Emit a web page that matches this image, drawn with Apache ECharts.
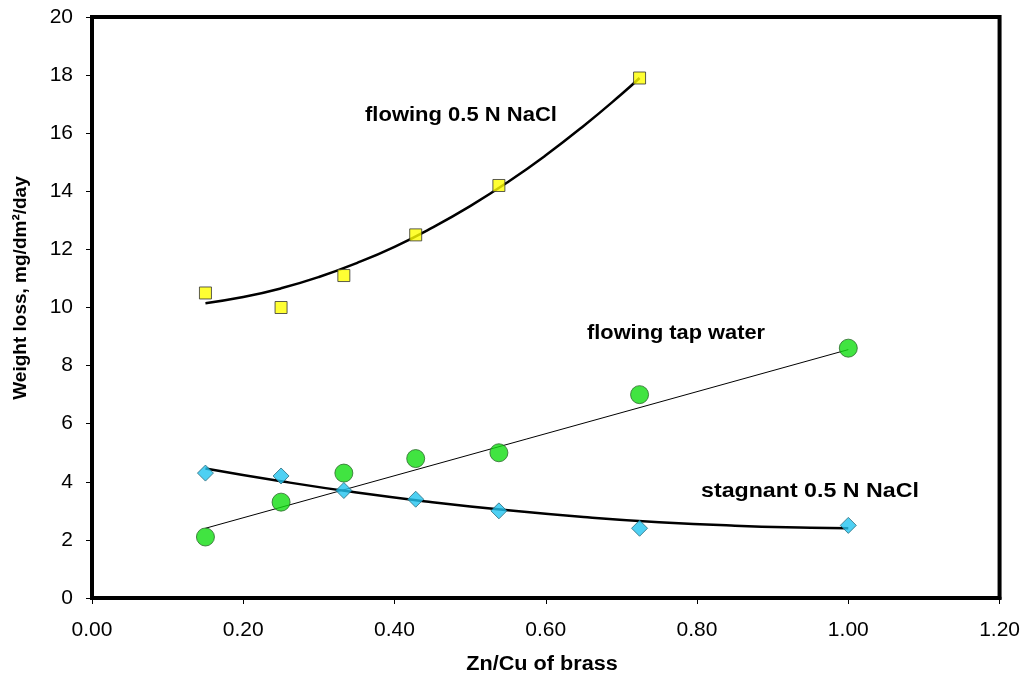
<!DOCTYPE html>
<html><head><meta charset="utf-8">
<script src="https://cdn.jsdelivr.net/npm/echarts@6/dist/echarts.min.js"></script>
<style>html,body{margin:0;padding:0;background:#fff}#c{width:1023px;height:679px}</style>
</head><body><div id="c"></div>
<script>
// Zn/Cu ratio of brass
const xVals = [0.15, 0.25, 0.333, 0.428, 0.538, 0.724, 1.0];
// measured weight loss
const flowingNaCl = [10.5, 10.0, 11.1, 12.5, 14.2, 17.9];
const flowingTap  = [2.1, 3.3, 4.3, 4.8, 5.0, 7.0, 8.6];
const stagnantNaCl = [4.3, 4.2, 3.7, 3.4, 3.0, 2.4, 2.5];
// trend lines
const trendNaClX = [0.15, 0.2, 0.25, 0.3, 0.35, 0.4, 0.45, 0.5, 0.55, 0.6, 0.65, 0.7, 0.724];
const trendNaClY = [10.15, 10.36, 10.66, 11.05, 11.53, 12.09, 12.75, 13.49, 14.32, 15.24, 16.25, 17.34, 17.9];
const trendTapX = [0.15, 1.0];
const trendTapY = [2.4, 8.55];
const trendStagX = [0.15, 0.25, 0.35, 0.45, 0.55, 0.65, 0.75, 0.85, 0.95, 1.0];
const trendStagY = [4.46, 4.02, 3.63, 3.30, 3.02, 2.79, 2.61, 2.49, 2.42, 2.40];
const yTicks = [0, 2, 4, 6, 8, 10, 12, 14, 16, 18, 20];
const xTicks = [0, 0.2, 0.4, 0.6, 0.8, 1.0, 1.2];
const labels = ['flowing 0.5 N NaCl', 'flowing tap water', 'stagnant 0.5 N NaCl'];
const xTitle = 'Zn/Cu of brass';
const yTitle = 'Weight loss, mg/dm\u00b2/day';

const zip = (xs, ys) => ys.map((y, i) => [xs[i], y]);
const font = '"Liberation Sans", Arial, sans-serif';
const boldFont = 'bold 20px "Liberation Sans", Arial, sans-serif';
const chart = echarts.init(document.getElementById('c'));
chart.setOption({
  animation: false,
  backgroundColor: '#fff',
  grid: { left: 92, right: 23, top: 17, bottom: 81, show: true, borderColor: '#000', borderWidth: 4, backgroundColor: 'transparent' },
  xAxis: {
    type: 'value', min: xTicks[0], max: xTicks[xTicks.length - 1], interval: 0.2,
    axisLine: { show: true, lineStyle: { color: '#000', width: 4 } },
    axisTick: { show: true, length: 6, lineStyle: { color: '#000', width: 1 } },
    axisLabel: { fontFamily: font, fontSize: 21, color: '#000', margin: 22, formatter: v => v.toFixed(2) },
    splitLine: { show: false }
  },
  yAxis: {
    type: 'value', min: yTicks[0], max: yTicks[yTicks.length - 1], interval: 2,
    axisLine: { show: true, lineStyle: { color: '#000', width: 4 } },
    axisTick: { show: true, length: 6, lineStyle: { color: '#000', width: 1 } },
    axisLabel: { fontFamily: font, fontSize: 21, color: '#000', margin: 19 },
    splitLine: { show: false }
  },
  graphic: [
    { type: 'text', x: 365, y: 115, scaleX: 1.1, style: { text: labels[0], font: boldFont, fill: '#000', textVerticalAlign: 'middle' } },
    { type: 'text', x: 587, y: 333, scaleX: 1.09, style: { text: labels[1], font: boldFont, fill: '#000', textVerticalAlign: 'middle' } },
    { type: 'text', x: 701, y: 491, scaleX: 1.16, style: { text: labels[2], font: boldFont, fill: '#000', textVerticalAlign: 'middle' } },
    { type: 'text', x: 542, y: 665, scaleX: 1.11, style: { text: xTitle, font: 'bold 19.5px "Liberation Sans", Arial, sans-serif', fill: '#000', textAlign: 'center', textVerticalAlign: 'middle' } },
    { type: 'text', x: 21, y: 288, rotation: Math.PI / 2, style: { text: yTitle, font: 'bold 19px "Liberation Sans", Arial, sans-serif', fill: '#000', textAlign: 'center', textVerticalAlign: 'middle' } }
  ],
  series: [
    { type: 'line', data: zip(trendNaClX, trendNaClY), smooth: true, symbol: 'none', lineStyle: { color: '#000', width: 2.5 }, z: 2 },
    { type: 'line', data: zip(trendTapX, trendTapY), symbol: 'none', lineStyle: { color: '#000', width: 1 }, z: 2 },
    { type: 'line', data: zip(trendStagX, trendStagY), smooth: true, symbol: 'none', lineStyle: { color: '#000', width: 2.5 }, z: 2 },
    { type: 'scatter', data: zip(xVals, flowingNaCl), symbol: 'rect', symbolSize: 12,
      itemStyle: { color: '#FFFF00', borderColor: '#333', borderWidth: 1 }, z: 3 },
    { type: 'scatter', data: zip(xVals, flowingTap), symbol: 'circle', symbolSize: 18,
      itemStyle: { color: '#11DD11', borderColor: '#2a6a2a', borderWidth: 1 }, z: 3 },
    { type: 'scatter', data: zip(xVals, stagnantNaCl), symbol: 'diamond', symbolSize: [16, 16],
      itemStyle: { color: '#22C4F0', borderColor: '#2a6a7a', borderWidth: 1 }, z: 3 }
  ]
});
</script></body></html>
